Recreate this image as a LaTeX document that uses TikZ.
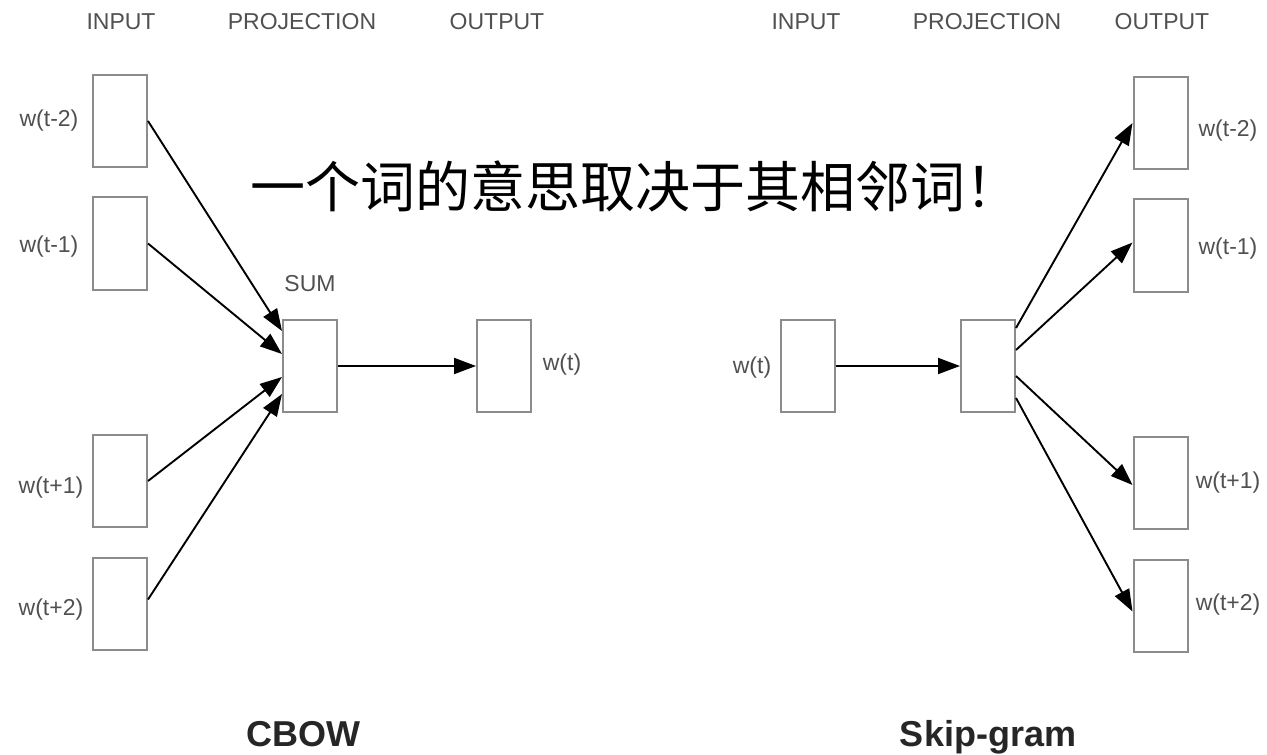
\documentclass[tikz,border=0pt]{standalone}
\usepackage{fontspec}
\setmainfont{Liberation Sans}
\newfontfamily\cjk{Noto Sans CJK SC}
\usetikzlibrary{arrows.meta}
\definecolor{boxgray}{RGB}{140,140,140}
\definecolor{labgray}{RGB}{80,80,80}
\tikzset{
  wbox/.style={draw=boxgray, line width=1pt, minimum width=27pt, minimum height=46pt, inner sep=0pt},
  lab/.style={text=labgray, font=\fontsize{11.5}{13}\selectfont, inner sep=0pt},
  conn/.style={draw=black, line width=0.95pt, -{Triangle[length=11pt,width=8pt]}},
  ttl/.style={text=black!85, font=\bfseries\fontsize{18}{20}\selectfont, inner sep=0pt},
  big/.style={font=\cjk\fontsize{27.5}{30}\selectfont, inner sep=0pt}
}
\begin{document}
\begin{tikzpicture}[x=0.5pt,y=-0.5pt]
\useasboundingbox (0,0) rectangle (1267,754);
% headers
\node[lab] (h1) at (121,22) {INPUT};
\node[lab] (h2) at (302,22) {PROJECTION};
\node[lab] (h3) at (497,22) {OUTPUT};
\node[lab] (h4) at (806,22) {INPUT};
\node[lab] (h5) at (987,22) {PROJECTION};
\node[lab] (h6) at (1162,22) {OUTPUT};
% CBOW boxes
\node[wbox] (a1) at (120,121) {};
\node[wbox] (a2) at (120,243.5) {};
\node[wbox] (a3) at (120,481) {};
\node[wbox] (a4) at (120,603.5) {};
\node[wbox] (sum) at (310,366) {};
\node[wbox] (aout) at (504,366) {};
\node[lab] (la1) at (49,121) {w(t-2)};
\node[lab] (la2) at (49,247) {w(t-1)};
\node[lab] (la3) at (51,488) {w(t+1)};
\node[lab] (la4) at (51,610) {w(t+2)};
\node[lab] (lsum) at (310,284) {SUM};
\node[lab] (laout) at (562,365) {w(t)};
\draw[conn] (a1.east) -- ([yshift=17.5pt]sum.west);
\draw[conn] (a2.east) -- ([yshift=6pt]sum.west);
\draw[conn] (a3.east) -- ([yshift=-5.5pt]sum.west);
\draw[conn] ([yshift=2pt]a4.east) -- ([yshift=-14pt]sum.west);
\draw[conn] (sum.east) -- (aout.west);
% Skip-gram boxes
\node[wbox] (bin) at (808,366) {};
\node[wbox] (proj) at (988,366) {};
\node[wbox] (b1) at (1160.5,123) {};
\node[wbox] (b2) at (1160.5,245.5) {};
\node[wbox] (b3) at (1160.5,483) {};
\node[wbox] (b4) at (1160.5,605.5) {};
\node[lab] (lbin) at (752,368) {w(t)};
\node[lab] (lb1) at (1228,131) {w(t-2)};
\node[lab] (lb2) at (1228,249) {w(t-1)};
\node[lab] (lb3) at (1228,483) {w(t+1)};
\node[lab] (lb4) at (1228,605) {w(t+2)};
\draw[conn] (bin.east) -- (proj.west);
\draw[conn] ([yshift=19pt]proj.east) -- (b1.west);
\draw[conn] ([yshift=8pt]proj.east) -- ([yshift=1.5pt]b2.west);
\draw[conn] ([yshift=-5pt]proj.east) -- ([yshift=-1pt]b3.west);
\draw[conn] ([yshift=-16pt]proj.east) -- ([yshift=-3pt]b4.west);
% titles
\node[ttl, anchor=base] (t1) at (303,746) {CBOW};
\node[ttl, anchor=base] (t2) at (988,746) {Skip-gram};
% big text
\node[big, anchor=base west] (msg) at (250,207) {一个词的意思取决于其相邻词！};
\end{tikzpicture}
\end{document}
